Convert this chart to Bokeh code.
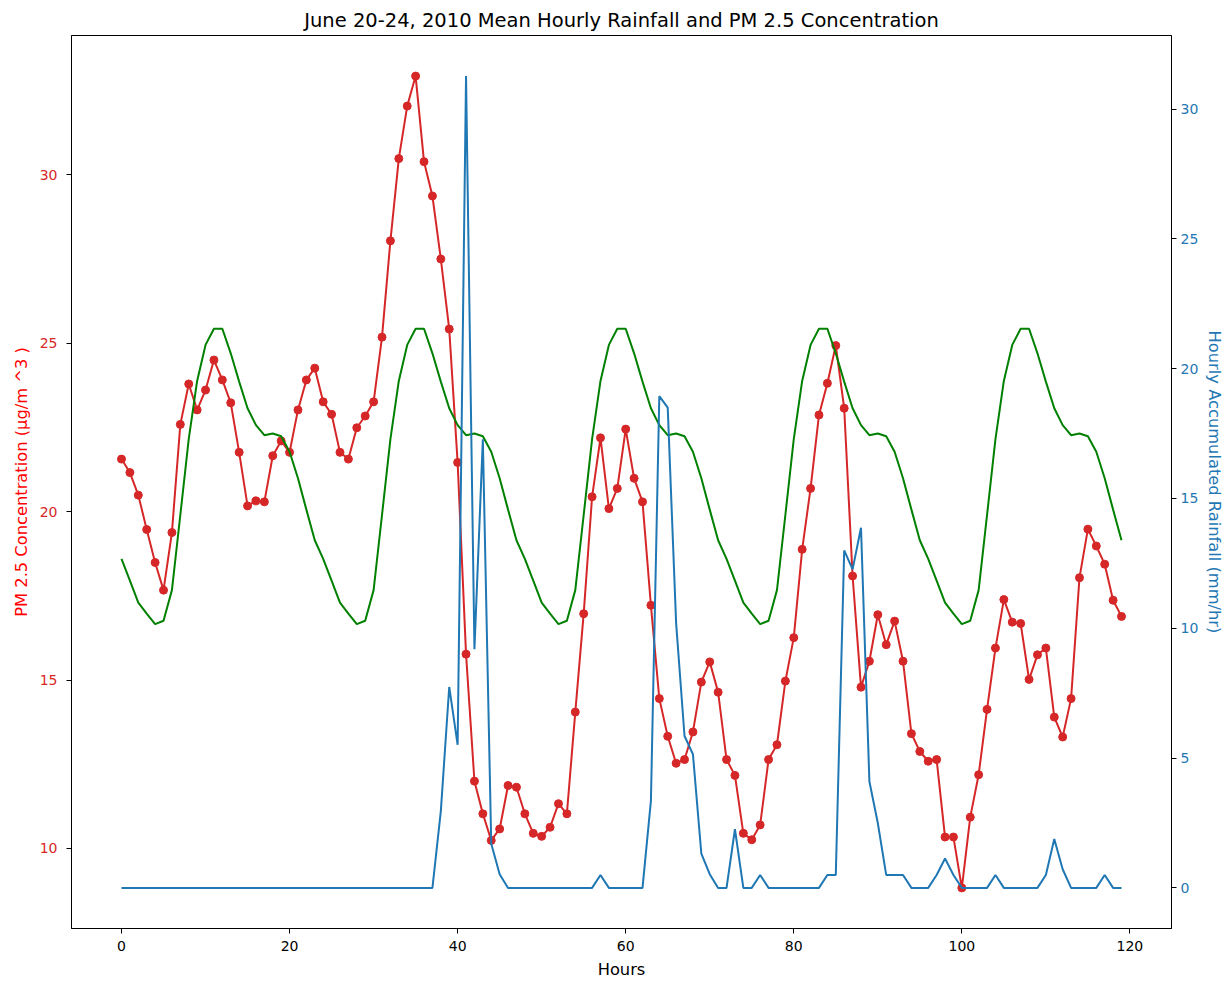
from bokeh.plotting import figure
from bokeh.models import Range1d, LinearAxis, SingleIntervalTicker, ColumnDataSource
from bokeh.embed import file_html
from bokeh.resources import INLINE

# ---------------- data ----------------
hours = list(range(120))

pm25 = [21.56, 21.16, 20.49, 19.47, 18.49, 17.67, 19.38, 22.59, 23.79, 23.02,
        23.61, 24.50, 23.91, 23.23, 21.76, 20.17, 20.32, 20.29, 21.66, 22.10,
        21.76, 23.02, 23.91, 24.26, 23.26, 22.89, 21.76, 21.56, 22.49, 22.84,
        23.26, 25.18, 28.04, 30.48, 32.04, 32.93, 30.39, 29.37, 27.50, 25.42,
        21.46, 15.77, 12.00, 11.03, 10.24, 10.58, 11.87, 11.82, 11.03, 10.45,
        10.36, 10.63, 11.33, 11.03, 14.05, 16.97, 20.44, 22.19, 20.09, 20.69,
        22.45, 20.99, 20.29, 17.22, 14.45, 13.33, 12.53, 12.64, 13.46, 14.94,
        15.54, 14.64, 12.64, 12.17, 10.45, 10.26, 10.70, 12.64, 13.08, 14.97,
        16.26, 18.88, 20.69, 22.87, 23.81, 24.93, 23.07, 18.09, 14.79, 15.56,
        16.94, 16.05, 16.75, 15.56, 13.41, 12.88, 12.59, 12.64, 10.34, 10.34,
        8.83, 10.93, 12.19, 14.13, 15.95, 17.39, 16.72, 16.68, 15.02, 15.75,
        15.95, 13.90, 13.31, 14.45, 18.04, 19.48, 18.98, 18.44, 17.37, 16.89]

diurnal_pm25 = [
    18.60, 17.95, 17.30, 16.97, 16.66, 16.76, 17.67, 19.90, 22.15, 23.88, 24.95, 25.43,
    25.43, 24.70, 23.86, 23.07, 22.57, 22.27, 22.32, 22.24, 21.78, 20.99, 20.06, 19.15,
    18.60, 17.95, 17.30, 16.97, 16.66, 16.76, 17.67, 19.90, 22.15, 23.88, 24.95, 25.43,
    25.43, 24.70, 23.86, 23.07, 22.57, 22.27, 22.32, 22.24, 21.78, 20.99, 20.06, 19.15,
    18.60, 17.95, 17.30, 16.97, 16.66, 16.76, 17.67, 19.90, 22.15, 23.88, 24.95, 25.43,
    25.43, 24.70, 23.86, 23.07, 22.57, 22.27, 22.32, 22.24, 21.78, 20.99, 20.06, 19.15,
    18.60, 17.95, 17.30, 16.97, 16.66, 16.76, 17.67, 19.90, 22.15, 23.88, 24.95, 25.43,
    25.43, 24.70, 23.86, 23.07, 22.57, 22.27, 22.32, 22.24, 21.78, 20.99, 20.06, 19.15,
    18.60, 17.95, 17.30, 16.97, 16.66, 16.76, 17.67, 19.90, 22.15, 23.88, 24.95, 25.43,
    25.43, 24.70, 23.86, 23.07, 22.57, 22.27, 22.32, 22.24, 21.78, 20.99, 20.06, 19.15]

rainfall = [0, 0, 0, 0, 0, 0, 0, 0, 0, 0,
            0, 0, 0, 0, 0, 0, 0, 0, 0, 0,
            0, 0, 0, 0, 0, 0, 0, 0, 0, 0,
            0, 0, 0, 0, 0, 0, 0, 0, 2.96, 7.74,
            5.51, 31.27, 9.19, 17.28, 1.7, 0.53, 0, 0, 0, 0,
            0, 0, 0, 0, 0, 0, 0, 0.5, 0, 0,
            0, 0, 0, 3.35, 18.94, 18.5, 10.2, 5.85, 5.15, 1.32,
            0.53, 0, 0, 2.26, 0, 0, 0.5, 0, 0, 0,
            0, 0, 0, 0, 0.5, 0.5, 13.0, 12.27, 13.87, 4.1,
            2.5, 0.5, 0.5, 0.5, 0, 0, 0, 0.5, 1.13, 0.5,
            0, 0, 0, 0, 0.5, 0, 0, 0, 0, 0,
            0.5, 1.88, 0.72, 0, 0, 0, 0, 0.5, 0, 0]

x_ticks_interval = 20
y_ticks_interval = 5

TITLE = "June 20-24, 2010 Mean Hourly Rainfall and PM 2.5 Concentration"
X_LABEL = "Hours"
LEFT_LABEL = "PM 2.5 Concentration (\u00b5g/m ^3 )"
RIGHT_LABEL = "Hourly Accumulated Rainfall (mm/hr)"

# ---------------- ranges with matplotlib-like 5% margins ----------------
def padded(lo, hi, frac=0.05):
    d = (hi - lo) * frac
    return lo - d, hi + d

xlo, xhi = padded(min(hours), max(hours))
llo, lhi = padded(min(min(pm25), min(diurnal_pm25)), max(max(pm25), max(diurnal_pm25)))
rlo, rhi = padded(min(rainfall), max(rainfall))

FONT = "DejaVu Sans"
RED = "#d62728"
BLUE = "#1f77b4"

p = figure(frame_width=1100, frame_height=893,
           min_border_left=71, min_border_right=59, min_border_top=35, min_border_bottom=55,
           x_range=Range1d(xlo, xhi), y_range=Range1d(llo, lhi),
           output_backend="svg", toolbar_location=None, title=TITLE)
p.extra_y_ranges = {"rain": Range1d(rlo, rhi)}

p.title.align = "center"
p.title.text_font = FONT
p.title.text_font_size = "19.5px"
p.title.text_font_style = "normal"
p.title.text_color = "black"
p.title.standoff = 7

p.xgrid.visible = False
p.ygrid.visible = False
p.outline_line_color = "black"
p.outline_line_width = 1
p.background_fill_color = "white"
p.border_fill_color = "white"

src = ColumnDataSource(dict(h=hours, pm=pm25, g=diurnal_pm25, r=rainfall))

p.line("h", "pm", source=src, line_color=RED, line_width=2)
p.scatter("h", "pm", source=src, size=8, fill_color=RED, line_color=RED)
p.line("h", "g", source=src, line_color="green", line_width=2)
p.line("h", "r", source=src, line_color=BLUE, line_width=2, y_range_name="rain")

def style_axis(ax, label_color, tick_color):
    ax.axis_line_color = "black"
    ax.major_tick_line_color = "black"
    ax.major_tick_out = 5
    ax.major_tick_in = 0
    ax.minor_tick_out = 0
    ax.minor_tick_in = 0
    ax.major_label_text_font = FONT
    ax.major_label_text_font_size = "14px"
    ax.major_label_text_color = tick_color
    ax.axis_label_text_font = FONT
    ax.axis_label_text_font_size = "16.3px"
    ax.axis_label_text_font_style = "normal"
    ax.axis_label_text_color = label_color

xa = p.xaxis[0]
xa.ticker = SingleIntervalTicker(interval=x_ticks_interval)
xa.axis_label = X_LABEL
style_axis(xa, "black", "black")
xa.major_label_standoff = 7
xa.axis_label_standoff = 6

ya = p.yaxis[0]
ya.ticker = SingleIntervalTicker(interval=y_ticks_interval)
ya.axis_label = LEFT_LABEL
style_axis(ya, "red", RED)
ya.major_label_standoff = 9
ya.axis_label_standoff = 6

ra = LinearAxis(y_range_name="rain", ticker=SingleIntervalTicker(interval=y_ticks_interval),
                axis_label=RIGHT_LABEL)
style_axis(ra, BLUE, BLUE)
ra.major_label_standoff = 4
ra.axis_label_standoff = 4
p.add_layout(ra, "right")

open("out.html", "w").write(file_html(p, INLINE))
